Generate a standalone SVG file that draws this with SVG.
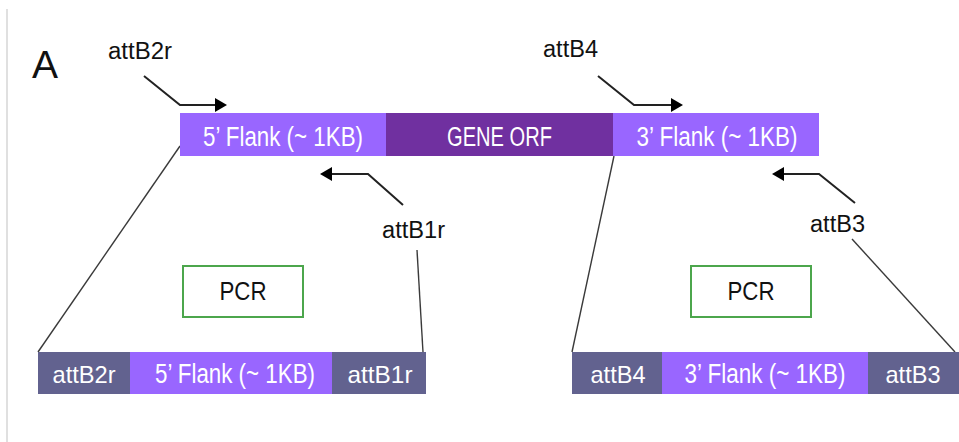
<svg xmlns="http://www.w3.org/2000/svg" width="959" height="442" viewBox="0 0 959 442">
<defs>
<marker id="ah" markerUnits="userSpaceOnUse" markerWidth="12" markerHeight="16" refX="1" refY="8" orient="auto" viewBox="0 0 12 16">
<path d="M0,1 L12,8 L0,15 Z" fill="#000"/>
</marker>
<style>
text{font-family:"Liberation Sans",Arial,sans-serif;}
.lbl{font-size:23px;fill:#111;}
.w{font-size:27px;fill:#fff;text-anchor:middle;}
.wb{font-size:24px;fill:#fff;text-anchor:middle;}
.flank{fill:#9966FF;}
.orf{fill:#7030A0;}
.att{fill:#62628F;}
.pcr{fill:#fff;stroke:#4CA64C;stroke-width:2;}
.ln{fill:none;stroke:#3a3a3a;stroke-width:1.4;}
.pr{fill:none;stroke:#222;stroke-width:2;}
</style>
</defs>
<line x1="7" y1="9" x2="7" y2="442" stroke="#d6d6d6" stroke-width="1.5"/>
<text x="32" y="78" style="font-size:39px;fill:#111;">A</text>

<g id="connectors">
<path class="pr" d="M144,76 L180,105 L216,105" marker-end="url(#ah)"/>
<path class="pr" d="M403,205 L368,174 L331,174" marker-end="url(#ah)"/>
<path class="pr" d="M598,76 L634,105 L672,105" marker-end="url(#ah)"/>
<path class="pr" d="M855,203 L819,174 L783,174" marker-end="url(#ah)"/>
<line class="ln" x1="180" y1="146" x2="38" y2="352"/>
<line class="ln" x1="417" y1="250" x2="423" y2="352"/>
<line class="ln" x1="614" y1="156" x2="572" y2="352"/>
<line class="ln" x1="852" y1="239" x2="955" y2="352"/>
</g>

<g id="label-attB2r"><text class="lbl" x="108" y="59" textLength="64" lengthAdjust="spacingAndGlyphs">attB2r</text></g>
<g id="label-attB4"><text class="lbl" x="543" y="57" textLength="55" lengthAdjust="spacingAndGlyphs">attB4</text></g>
<g id="label-attB1r"><text class="lbl" x="382" y="238" textLength="63" lengthAdjust="spacingAndGlyphs">attB1r</text></g>
<g id="label-attB3"><text class="lbl" x="810" y="232" textLength="55" lengthAdjust="spacingAndGlyphs">attB3</text></g>

<g id="top-5flank">
<rect class="flank" x="180" y="113" width="206" height="43"/>
<text class="w" x="283" y="146" textLength="160" lengthAdjust="spacingAndGlyphs">5’ Flank (~ 1KB)</text>
</g>
<g id="top-gene-orf">
<rect class="orf" x="386" y="113" width="227" height="43"/>
<text class="w" x="499.5" y="146" textLength="105" lengthAdjust="spacingAndGlyphs">GENE ORF</text>
</g>
<g id="top-3flank">
<rect class="flank" x="613" y="113" width="206" height="43"/>
<text class="w" x="717" y="146" textLength="161" lengthAdjust="spacingAndGlyphs">3’ Flank (~ 1KB)</text>
</g>

<g id="pcr-left">
<rect class="pcr" x="183" y="266" width="120" height="51"/>
<text x="243" y="300" text-anchor="middle" style="font-size:26px;fill:#111;" textLength="47" lengthAdjust="spacingAndGlyphs">PCR</text>
</g>
<g id="pcr-right">
<rect class="pcr" x="691" y="266" width="120" height="51"/>
<text x="751" y="300" text-anchor="middle" style="font-size:26px;fill:#111;" textLength="47" lengthAdjust="spacingAndGlyphs">PCR</text>
</g>

<g id="bottom-left">
<rect class="att" x="38" y="352" width="92" height="42"/>
<text class="wb" x="84" y="383" textLength="63" lengthAdjust="spacingAndGlyphs">attB2r</text>
<rect class="flank" x="130" y="352" width="202" height="42"/>
<text class="w" x="235" y="383" textLength="160" lengthAdjust="spacingAndGlyphs">5’ Flank (~ 1KB)</text>
<rect class="att" x="332" y="352" width="94" height="42"/>
<text class="wb" x="380" y="383" textLength="65" lengthAdjust="spacingAndGlyphs">attB1r</text>
</g>
<g id="bottom-right">
<rect class="att" x="572" y="352" width="90" height="42"/>
<text class="wb" x="618" y="383" textLength="55" lengthAdjust="spacingAndGlyphs">attB4</text>
<rect class="flank" x="662" y="352" width="206" height="42"/>
<text class="w" x="765" y="383" textLength="161" lengthAdjust="spacingAndGlyphs">3’ Flank (~ 1KB)</text>
<rect class="att" x="868" y="352" width="91" height="42"/>
<text class="wb" x="913" y="383" textLength="55" lengthAdjust="spacingAndGlyphs">attB3</text>
</g>
</svg>
